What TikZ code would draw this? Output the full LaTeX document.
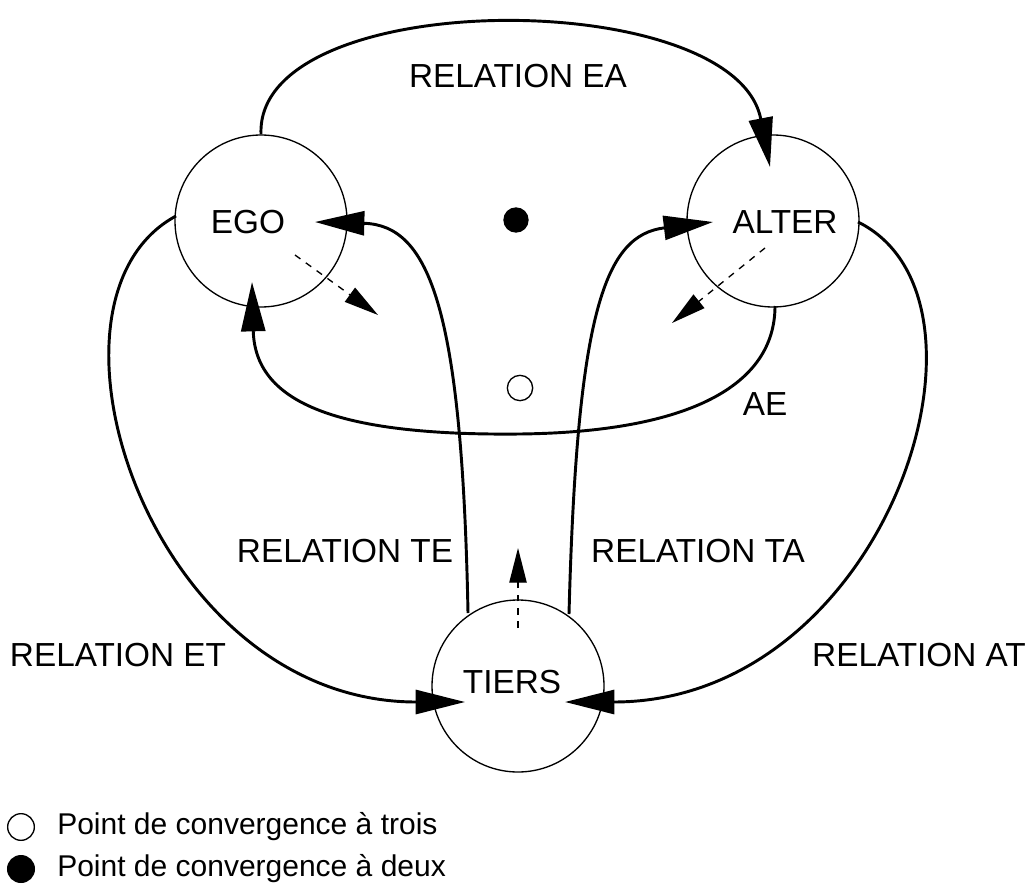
\documentclass[tikz,border=0pt]{standalone}
\usepackage{fontspec}
\setmainfont{Liberation Sans}
\usetikzlibrary{arrows.meta,calc}
\begin{document}
\begin{tikzpicture}[x=0.75pt,y=-0.75pt,
  circ/.style={draw,circle,line width=1pt,minimum size=129pt,inner sep=0pt},
  lbl/.style={font=\fontsize{25}{30}\selectfont,inner sep=0pt},
  leg/.style={font=\fontsize{22.5}{27}\selectfont,inner sep=0pt,anchor=west},
  conn/.style={line width=2.2pt,-{Triangle[length=37pt,width=18pt]}},
  dsh/.style={line width=1pt,dash pattern=on 5pt off 5pt,-{Triangle[length=26pt,width=13pt]}},
  dotopen/.style={draw,circle,line width=1pt,minimum size=19pt,inner sep=0pt,fill=white},
  dotfull/.style={draw,circle,line width=1pt,minimum size=18pt,inner sep=0pt,fill=black},
]
\useasboundingbox (0,0) rectangle (1030,884);

% main circles
\node[circ] (ego) at (261,221) {};
\node[circ] (alter) at (773,221) {};
\node[circ] (tiers) at (518,686) {};
\node[lbl] (egot) at (248,222) {EGO};
\node[lbl] (altert) at (785,222) {ALTER};
\node[lbl] (tierst) at (512,682) {TIERS};

% convergence points
\node[dotfull] (p2) at (516,220) {};
\node[dotopen] (p3) at (520,388) {};

% labels
\node[lbl] (lea) at (518,76) {RELATION EA};
\node[lbl] (lte) at (345,551) {RELATION TE};
\node[lbl] (lta) at (698,551) {RELATION TA};
\node[lbl] (let) at (118,655) {RELATION ET};
\node[lbl] (lat) at (919,655) {RELATION AT};
\node[lbl] (lae) at (765,404) {AE};

% connectors
\draw[conn] (ego.north) .. controls (255,-15) and (735,-15) .. ($(alter)+(-3,-54)$);
\draw[conn] ($(tiers)+(-50,-73)$) .. controls (462,310) and (430,225) .. ($(ego)+(54,1)$);
\draw[conn] ($(tiers)+(51,-72)$) .. controls (577,310) and (605,235) .. ($(alter)+(-60,1)$);
\draw[conn] ($(ego)+(-85,-5)$) .. controls (20,300) and (150,702) .. ($(tiers)+(-53,16)$);
\draw[conn] ($(alter)+(85,1)$) .. controls (1016,300) and (886,702) .. ($(tiers)+(47,16)$);
\draw[conn] ($(alter)+(2,85)$) .. controls (775,385) and (690,432) .. (520,434)
   .. controls (330,436) and (255,400) .. ($(ego)+(-9,61)$);

% dashed arrows
\draw[dsh] ($(ego)+(34,34)$) -- ($(ego)+(117,94)$);
\draw[dsh] ($(alter)+(-8,27)$) -- ($(alter)+(-101,102)$);
\draw[dsh] ($(tiers)+(0,-58)$) -- ($(tiers)+(0,-138)$);

% legend
\node[dotopen,minimum size=20pt] (lo) at (21,827) {};
\node[dotfull,minimum size=20pt] (lf) at (21,869) {};
\node[leg] (lot) at (57,827) {Point de convergence à trois};
\node[leg] (lft) at (57,869) {Point de convergence à deux};
\end{tikzpicture}
\end{document}
